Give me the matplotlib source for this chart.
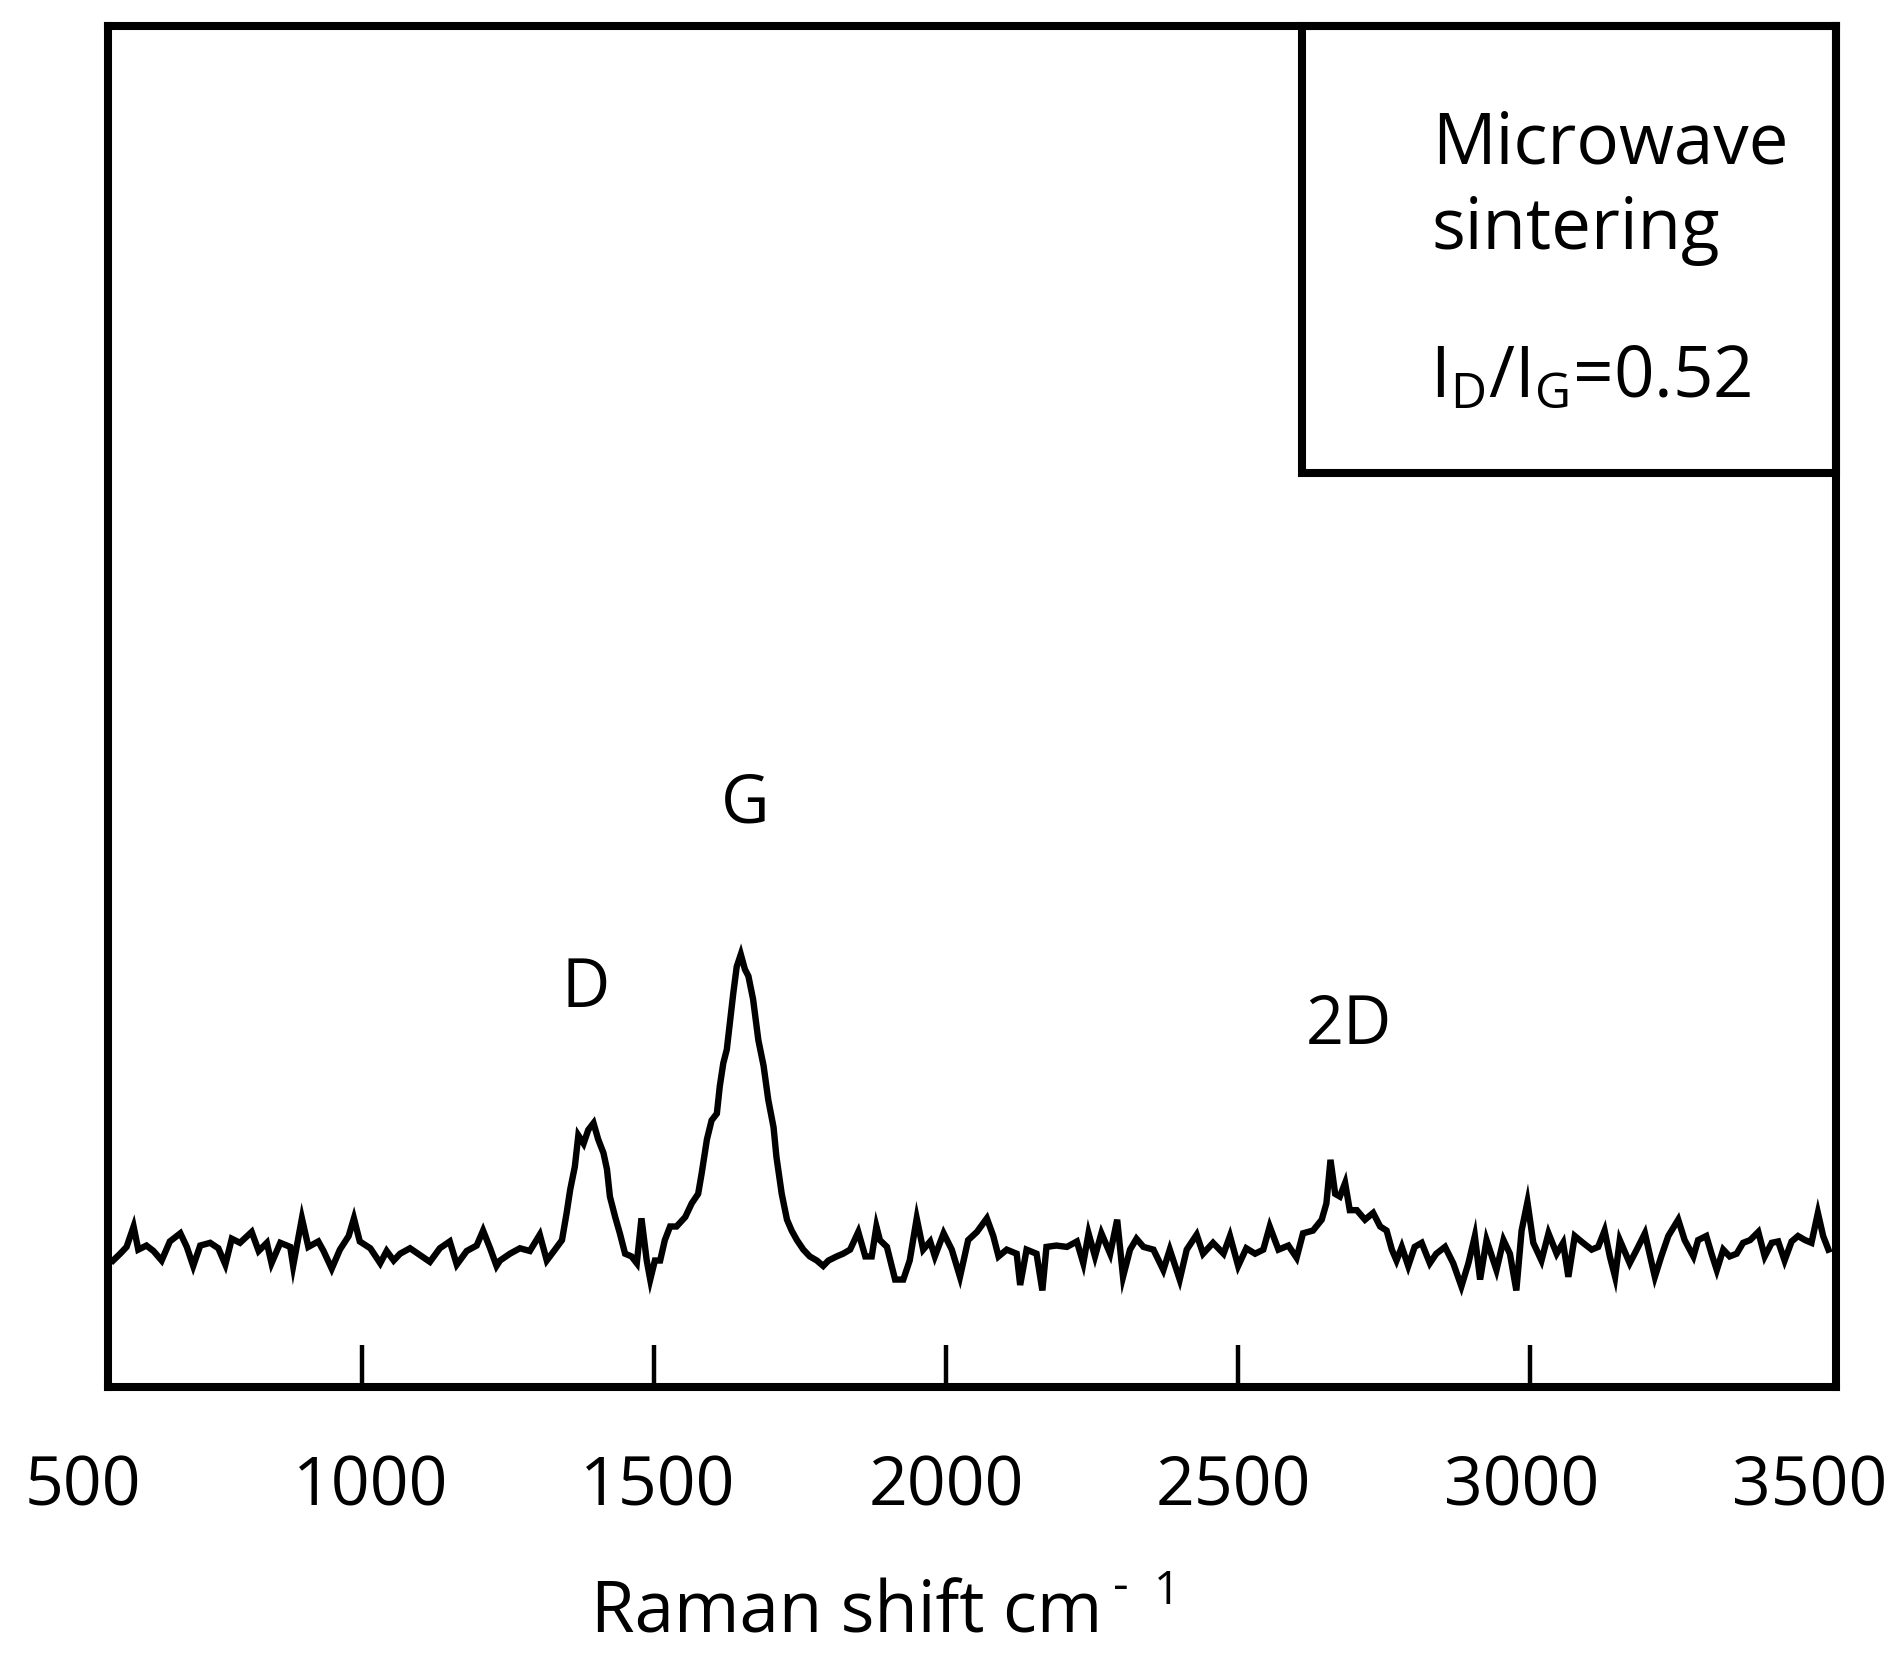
import matplotlib.pyplot as plt
from matplotlib.patches import Rectangle

plt.rcParams['font.family'] = ['Open Sans', 'DejaVu Sans']

# Raman spectrum (arbitrary intensity units)
shift = [575, 587, 598, 610, 618, 632, 644, 658, 672, 690, 701, 712, 724, 741, 755, 767, 778, 792,
         812, 824, 838, 846, 861, 878, 883, 898, 909, 926, 935, 949, 963, 978, 987, 997, 1015, 1032,
         1043, 1055, 1066, 1083, 1100, 1117, 1134, 1151, 1163, 1180, 1197, 1208, 1220, 1231,
         1237, 1254, 1271, 1288, 1305, 1317, 1331, 1343, 1351, 1357, 1365, 1371, 1380, 1388, 1397,
         1405, 1414, 1420, 1425, 1434, 1442, 1451, 1462, 1471, 1479, 1488, 1494, 1502, 1511, 1519,
         1528, 1539, 1554, 1565, 1576, 1582, 1591, 1599, 1608, 1613, 1619, 1625, 1631, 1636, 1642,
         1649, 1656, 1662, 1670, 1679, 1688, 1696, 1705, 1710, 1719, 1728, 1736, 1745, 1756, 1767,
         1779, 1790, 1799, 1813, 1824, 1836, 1850, 1862, 1873, 1881,
         1887, 1899, 1913, 1927, 1938, 1950, 1961, 1973, 1981, 1996, 2010, 2024, 2038, 2053, 2070,
         2081, 2090, 2104, 2121, 2127, 2138, 2155, 2165, 2172, 2189, 2207, 2224, 2235, 2244, 2255,
         2266, 2281, 2293, 2303, 2315, 2326, 2338, 2355, 2372, 2383, 2400, 2412, 2429, 2440, 2457,
         2475, 2486, 2500, 2514, 2529, 2543, 2554, 2569,
         2586, 2600, 2611, 2628, 2643, 2651, 2658, 2666, 2674, 2683, 2691, 2703, 2717, 2731, 2743,
         2754, 2763, 2771, 2780, 2791, 2802, 2814, 2828, 2839, 2854, 2868, 2882, 2894, 2905, 2914,
         2925, 2942, 2954, 2965, 2976, 2985, 2995, 3005, 3019, 3031, 3045, 3056, 3065, 3076, 3090,
         3105, 3116, 3127, 3136, 3145, 3153, 3170, 3182, 3196, 3205, 3213, 3224, 3236, 3253, 3264,
         3279, 3287,
         3301, 3310, 3319, 3330, 3341, 3353, 3364, 3376, 3390, 3401, 3413, 3424, 3435, 3447, 3458,
         3470, 3481, 3492, 3501, 3510]
intensity = [9.3, 9.8, 10.3, 11.8, 10.1, 10.4, 10.0, 9.3, 10.7, 11.3, 10.3, 8.9, 10.4, 10.6, 10.2, 9.0, 10.9, 10.6,
             11.4, 10.0, 10.6, 9.1, 10.6, 10.3, 8.9, 12.4, 10.3, 10.7, 10.0, 8.7, 10.1, 11.1, 12.4, 10.7, 10.2, 9.1,
             10.0, 9.3, 9.8, 10.2, 9.7, 9.2, 10.2, 10.7, 9.0, 10.0, 10.4, 11.5, 10.2, 8.9,
             9.3, 9.8, 10.2, 10.0, 11.2, 9.3, 10.1, 10.8, 12.8, 14.5, 16.2, 18.5, 17.9, 18.9, 19.4,
             18.2, 17.2, 16.0, 14.0, 12.5, 11.3, 9.8, 9.6, 9.1, 12.4, 9.3, 7.9, 9.3, 9.3, 10.8,
             11.8, 11.8, 12.5, 13.5, 14.2, 15.7, 18.2, 19.6, 20.1, 22.1, 23.8, 24.8, 27.0, 28.9, 30.9,
             31.8, 30.7, 30.2, 28.5, 25.5, 23.6, 21.1, 19.1, 16.9, 14.2, 12.3, 11.5, 10.8, 10.1, 9.6,
             9.3, 8.9, 9.3, 9.6, 9.8, 10.1, 11.4, 9.6, 9.6, 11.8,
             10.8, 10.3, 7.9, 7.9, 9.3, 12.4, 10.1, 10.7, 9.6, 11.3, 10.1, 8.1, 10.8, 11.4, 12.4,
             11.1, 9.6, 10.1, 9.8, 7.5, 10.1, 9.8, 7.1, 10.3, 10.4, 10.3, 10.7, 9.1, 11.3, 9.6,
             11.3, 9.8, 12.3, 8.1, 10.1, 10.9, 10.3, 10.1, 8.6, 10.1, 7.9, 10.1, 11.2, 9.8, 10.6,
             9.8, 11.1, 8.9, 10.2, 9.8, 10.1, 11.8, 10.1,
             10.4, 9.5, 11.3, 11.5, 12.3, 13.5, 16.7, 14.2, 14.0, 15.0, 13.0, 13.0, 12.3, 12.8, 11.8,
             11.5, 10.1, 9.3, 10.3, 8.9, 10.3, 10.6, 9.1, 9.8, 10.3, 9.1, 7.4, 9.1, 11.1, 7.9,
             10.8, 8.6, 10.8, 9.8, 7.1, 11.5, 13.6, 10.6, 9.3, 11.3, 9.8, 10.6, 8.1, 11.1, 10.6,
             10.1, 10.3, 11.5, 9.6, 8.1, 10.8, 9.1, 10.1, 11.3, 9.6, 8.1, 9.6, 11.1, 12.3, 10.8,
             9.6, 10.8,
             11.1, 9.8, 8.6, 10.1, 9.6, 9.8, 10.6, 10.8, 11.4, 9.6, 10.6, 10.7, 9.3, 10.7, 11.1,
             10.8, 10.6, 12.8, 11.1, 10.1]

tick_values = [1000, 1500, 2000, 2500, 3000]
label_values = [500, 1000, 1500, 2000, 2500, 3000, 3500]

peak_names = ['D', 'G', '2D']
peak_x = [1384, 1656, 2689]
peak_y = [27.9, 41.5, 25.2]

fig = plt.figure(figsize=(19.03, 16.54), dpi=100)
ax = fig.add_axes([0.0570, 0.1614, 0.9078, 0.8226])

ax.plot(shift, intensity, color='black', lw=4.6, solid_joinstyle='miter')
ax.set_xlim(567, 3523)
ax.set_ylim(0, 100)

for s in ax.spines.values():
    s.set_linewidth(5.8)
ax.set_xticks(tick_values)
ax.set_yticks([])
ax.tick_params(axis='x', direction='in', length=30, width=3.2, labelbottom=False)

# tick labels sit below the frame, spaced a little tighter than the ticks
for v in label_values:
    ax.text(2000 + (v - 2000) * 0.985, -0.0867, str(v), transform=ax.get_xaxis_transform(),
            ha='center', va='baseline', fontsize=49, clip_on=False)

for name, px, py in zip(peak_names, peak_x, peak_y):
    ax.text(px, py, name, ha='center', va='baseline', fontsize=48)

# info box in the top-right corner
ax.add_patch(Rectangle((0.691, 0.672), 0.309, 0.328, transform=ax.transAxes,
                       fill=False, ec='black', lw=5.8, clip_on=False))
ax.text(0.766, 0.899, 'Microwave', transform=ax.transAxes, fontsize=51, va='baseline')
ax.text(0.766, 0.8365, 'sintering', transform=ax.transAxes, fontsize=51, va='baseline')
ax.text(0.765, 0.7277, r'$\mathregular{I_D/I_G}$=0.52', transform=ax.transAxes,
        fontsize=51, va='baseline')

# x axis title with a spaced "- 1" superscript
fig.text(0.3106, 0.0133, 'Raman shift cm', fontsize=51, ha='left', va='baseline')
fig.text(0.589, 0.032, '-', fontsize=35, ha='center', va='baseline')
fig.text(0.6133, 0.0302, '1', fontsize=33, ha='center', va='baseline')

fig.savefig('out.png', dpi=100)
